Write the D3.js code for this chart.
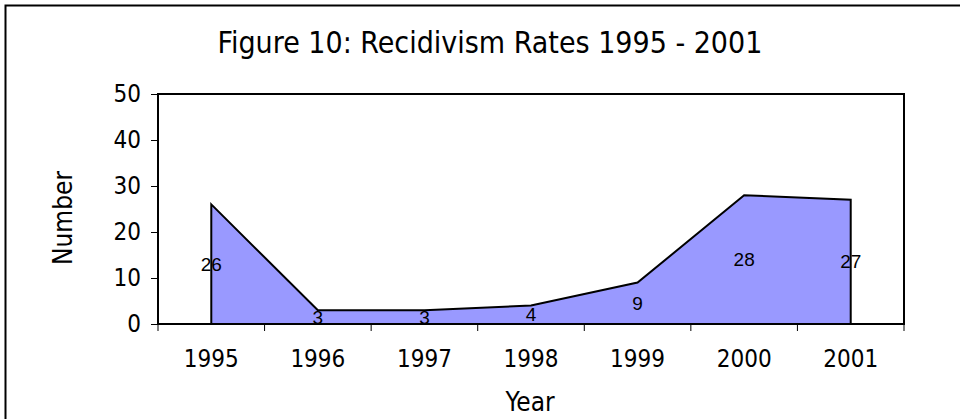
<!DOCTYPE html>
<html>
<head>
<meta charset="utf-8">
<script src="https://cdn.jsdelivr.net/npm/d3@7"></script>
<style>
  html, body { margin: 0; padding: 0; background: #fff; }
  svg { display: block; }
  .tah { font-family: "DejaVu Sans Condensed", "DejaVu Sans", sans-serif; font-stretch: condensed; }
</style>
</head>
<body>
<svg id="chart" width="960" height="419"></svg>
<script>
const titleText = "Figure 10: Recidivism Rates 1995 - 2001";
const years = ["1995", "1996", "1997", "1998", "1999", "2000", "2001"];
const values = [26, 3, 3, 4, 9, 28, 27];
const yTicks = [0, 10, 20, 30, 40, 50];
const xTitle = "Year";
const yTitle = "Number";

const svg = d3.select("#chart");
const plot = { left: 158, right: 904, top: 94, bottom: 324 };

// outer chart frame
svg.append("rect")
  .attr("x", 5.5).attr("y", 5.5)
  .attr("width", 1000).attr("height", 500)
  .attr("fill", "#fff").attr("stroke", "#000").attr("stroke-width", 2);

const x = d3.scaleBand().domain(years).range([plot.left, plot.right]).paddingInner(0).paddingOuter(0);
const y = d3.scaleLinear().domain([0, 50]).range([plot.bottom, plot.top]);
const cx = d => x(d) + x.bandwidth() / 2;

// title
svg.append("text").attr("class", "tah")
  .attr("x", 490).attr("y", 53)
  .attr("text-anchor", "middle")
  .attr("font-size", 30)
  .text(titleText);

// area
const data = years.map((c, i) => ({ c, v: values[i] }));
const area = d3.area().x(d => cx(d.c)).y0(y(0)).y1(d => y(d.v));
svg.append("path").datum(data)
  .attr("d", area)
  .attr("fill", "#9999FF")
  .attr("stroke", "#000").attr("stroke-width", 2).attr("stroke-linejoin", "miter");

// plot frame
svg.append("rect")
  .attr("x", plot.left).attr("y", plot.top)
  .attr("width", plot.right - plot.left).attr("height", plot.bottom - plot.top)
  .attr("fill", "none").attr("stroke", "#000").attr("stroke-width", 2);

// y axis
const yAxis = d3.axisLeft(y).tickValues(yTicks).tickSize(7).tickPadding(10).tickFormat(d3.format("d"));
const gy = svg.append("g").attr("transform", `translate(${plot.left},0)`).call(yAxis);
gy.select(".domain").remove();
gy.selectAll(".tick line").attr("stroke", "#000");
gy.selectAll(".tick text").attr("class", "tah").attr("font-size", 24).attr("fill", "#000");

// x axis: labels centered, ticks at category boundaries
const xAxis = d3.axisBottom(x).tickSize(0).tickPadding(26);
const gx = svg.append("g").attr("transform", `translate(0,${plot.bottom})`).call(xAxis);
gx.select(".domain").remove();
gx.selectAll(".tick text").attr("class", "tah").attr("font-size", 24).attr("fill", "#000");
const bounds = years.map(c => x(c)).concat([x(years[years.length - 1]) + x.bandwidth()]);
svg.append("g").selectAll("line").data(bounds).join("line")
  .attr("x1", d => d).attr("x2", d => d)
  .attr("y1", plot.bottom).attr("y2", plot.bottom + 7)
  .attr("stroke", "#000").attr("stroke-width", 1);

// data labels
svg.append("g").selectAll("text").data(data).join("text")
  .attr("x", d => cx(d.c))
  .attr("y", d => (y(d.v) + y(0)) / 2)
  .attr("text-anchor", "middle")
  .attr("dominant-baseline", "central")
  .attr("font-family", "'Liberation Sans', Arial, sans-serif")
  .attr("font-size", 19)
  .text(d => d.v);

// axis titles
svg.append("text").attr("class", "tah")
  .attr("x", 530).attr("y", 411)
  .attr("text-anchor", "middle")
  .attr("font-size", 26)
  .text(xTitle);
svg.append("text").attr("class", "tah")
  .attr("transform", "translate(72,218) rotate(-90)")
  .attr("text-anchor", "middle")
  .attr("font-size", 26)
  .text(yTitle);
</script>
</body>
</html>
